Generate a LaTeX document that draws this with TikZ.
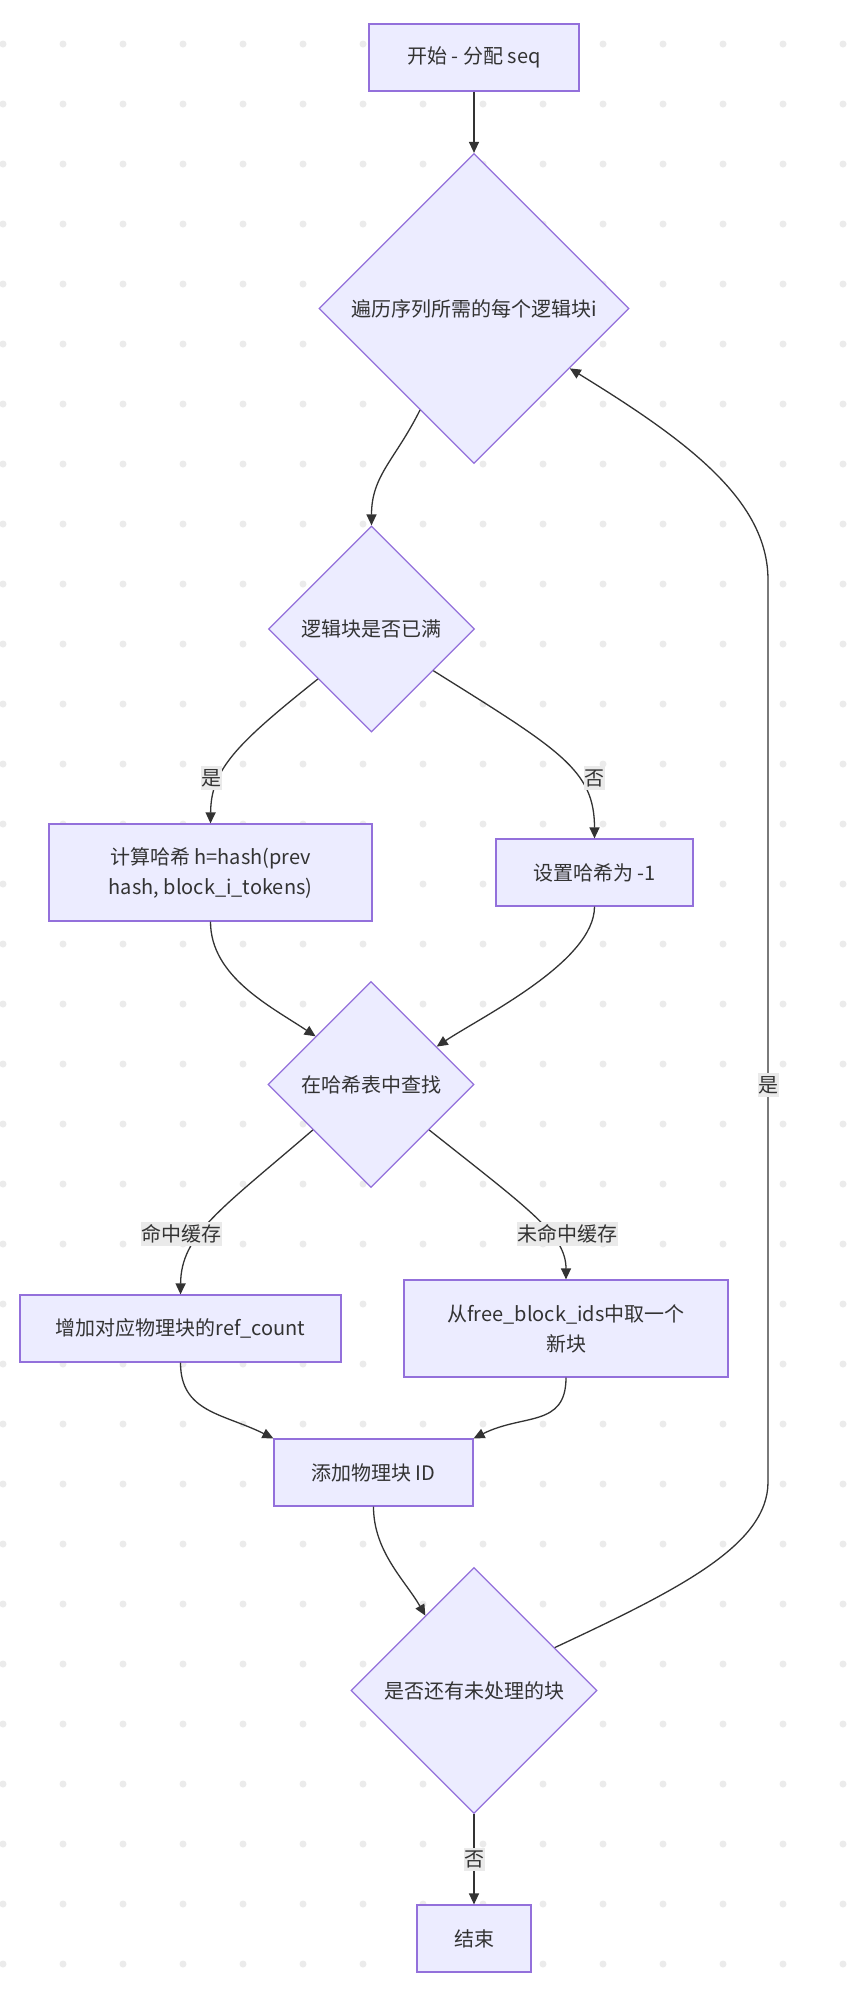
\documentclass[tikz,border=0pt]{standalone}
\usepackage{fontspec}
\setmainfont{Noto Sans CJK SC}
\usepackage{tikz}
\usetikzlibrary{shapes.geometric,arrows.meta}
\definecolor{nodefill}{HTML}{ECECFF}
\definecolor{nodeline}{HTML}{9370DB}
\definecolor{inkgray}{HTML}{333333}
\definecolor{lblbg}{HTML}{EAEAEA}
\definecolor{dotgray}{HTML}{EBEBEB}

\begin{document}
\begin{tikzpicture}[x=1pt,y=-1pt,
    every node/.style={font=\fontsize{20}{30}\selectfont, text=inkgray},
    box/.style={draw=nodeline, fill=nodefill, line width=1.2pt, inner sep=0pt, align=center},
    choice/.style={diamond, aspect=1, draw=nodeline, fill=nodefill, line width=1.2pt, inner sep=0pt, minimum size=#1},
    flow/.style={draw=inkgray, line width=1.3pt, -{Triangle[length=11pt,width=10pt]}},
    lbl/.style={fill=lblbg, inner xsep=0.5pt, inner ysep=3pt}]
            \useasboundingbox (0,0) rectangle (852,2006);
            \fill[white] (0,0) rectangle (852,2006);
            \foreach \x in {3,63,...,843}
                \foreach \y in {44,104,...,1964}
                    \fill[dotgray] (\x,\y) circle (3.5);

            \node[box, minimum width=210, minimum height=67] (start) at (474,57.5) {开始 - 分配 seq};
            \node[choice=310] (loop) at (474,308.5) {遍历序列所需的每个逻辑块i};
            \node[choice=206] (full) at (371.5,629) {逻辑块是否已满};
            \node[box, minimum width=323, minimum height=97] (hash) at (210.5,872.5) {计算哈希 h=hash(prev\\hash, block\_i\_tokens)};
            \node[box, minimum width=197, minimum height=67] (nohash) at (594.5,872.5) {设置哈希为 -1};
            \node[choice=206] (lookup) at (371,1084.5) {在哈希表中查找};
            \node[box, minimum width=321, minimum height=67] (hit) at (180.5,1328.5) {增加对应物理块的ref\_count};
            \node[box, minimum width=324, minimum height=97] (miss) at (566,1328.5) {从free\_block\_ids中取一个\\新块};
            \node[box, minimum width=199, minimum height=67] (addid) at (373.5,1472.5) {添加物理块 ID};
            \node[choice=246] (more) at (474,1690.5) {是否还有未处理的块};
            \node[box, minimum width=114, minimum height=67] (finish) at (474,1938.5) {结束};

            \draw[flow] (start) -- (loop);
            \draw[flow] (loop.-118) .. controls +(-25,50) and +(0,-50) .. (full.north);
            \draw[flow] (full.-137) .. controls (235,745) and (211,770) .. (hash.north)
                node[lbl] (yesfull) at (211,778) {是};
            \draw[flow] (full.-34) .. controls (560,750) and (594.5,770) .. (nohash.north)
                node[lbl] (nofull) at (594,778) {否};
            \draw[flow] (hash.south) .. controls +(0,55) and +(-45,-30) .. (lookup.139);
            \draw[flow] (nohash.south) .. controls +(0,55) and +(45,-30) .. (lookup.30);
            \draw[flow] (lookup.-142) .. controls (220,1210) and (181,1235) .. (hit.north)
                node[lbl] (hitlbl) at (181,1234) {命中缓存};
            \draw[flow] (lookup.-38) .. controls (530,1210) and (566,1235) .. (miss.north)
                node[lbl] (misslbl) at (567,1234) {未命中缓存};
            \draw[flow] (hit.south) .. controls +(0,50) and +(-50,-25) .. (addid.north west);
            \draw[flow] (miss.south) .. controls +(0,50) and +(50,-25) .. (addid.north east);
            \draw[flow] (addid.south) .. controls +(0,45) and +(-20,-35) .. (more.123);
            \draw[flow] (more.south) -- node[lbl] (nomore) {否} (finish.north);
            \draw[flow] (more.28) .. controls +(124,-58) and +(0,63) .. (768,1482)
                -- node[lbl, pos=0.44] (yesmore) {是} (768,580)
                .. controls +(0,-80) and +(117,72) .. (loop.-32);

            \end{tikzpicture}
\end{document}
